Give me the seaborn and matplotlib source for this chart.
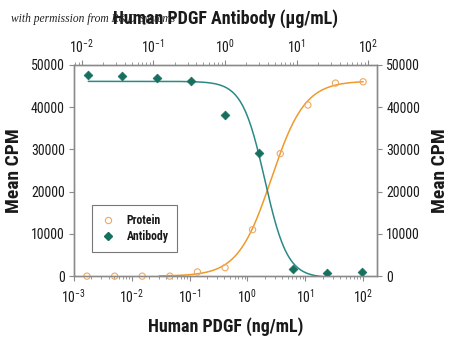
import numpy as np
import pandas as pd
import matplotlib
matplotlib.use("Agg")
import matplotlib.pyplot as plt
import matplotlib.font_manager as fm
import seaborn as sns
from matplotlib.ticker import LogLocator, NullFormatter
from matplotlib.lines import Line2D

# ---- data ----
protein_conc = [0.00169, 0.00508, 0.0152, 0.0457, 0.137, 0.412, 1.23, 3.70, 11.1, 33.3, 100.0]  # ng/mL
protein_cpm = [0, 0, 0, 0, 1000, 2000, 11000, 29000, 40500, 45700, 46000]
antibody_conc = [0.0123, 0.037, 0.111, 0.333, 1.0, 3.0, 9.0, 27.0, 81.0]  # ug/mL
antibody_cpm = [47600, 47400, 46900, 46200, 38100, 29100, 1600, 700, 1000]

# 4-parameter logistic fit parameters (bottom, top, EC50, hill; negative hill = decreasing)
protein_fit = dict(bottom=0, top=46200, ec50=2.6, hill=1.5)
antibody_fit = dict(bottom=-400, top=46100, ec50=3.6, hill=-2.75)

yticks = [0, 10000, 20000, 30000, 40000, 50000]

def four_pl(x, p):
    return p["bottom"] + (p["top"] - p["bottom"]) / (1 + (p["ec50"] / x) ** p["hill"])

orange = "#EE9A2C"
orange_mk = "#F0A860"
teal_line = "#2A8A86"
teal_mk = "#17705F"
spine_c = "#8A8A8A"
txt_c = "#1A1A1A"

# pick a condensed sans family if one is installed
fonts = fm.fontManager.ttflist
names = {f.name for f in fonts}
cond_family, cond_stretch = None, "normal"
for cand in ["Liberation Sans Narrow", "Roboto Condensed", "Open Sans Condensed",
             "Noto Sans Condensed", "Arial Narrow", "DejaVu Sans Condensed"]:
    if cand in names:
        cond_family = cand
        break
if cond_family is None:
    for f in fonts:
        if "Condensed" in f.name or "Narrow" in f.name:
            cond_family = f.name
            break
if cond_family is None:
    cond_family = "Lato"

sns.set_theme(style="white")
plt.rcParams["font.family"] = [cond_family, "Lato", "DejaVu Sans"]
plt.rcParams["font.stretch"] = cond_stretch
plt.rcParams["text.color"] = txt_c
plt.rcParams["axes.labelcolor"] = txt_c
plt.rcParams["xtick.color"] = txt_c
plt.rcParams["ytick.color"] = txt_c
plt.rcParams["mathtext.fontset"] = "custom"
plt.rcParams["mathtext.rm"] = cond_family
plt.rcParams["mathtext.it"] = cond_family

narrow = cond_family != "Lato"
xlab_fs = 13 if narrow else 11.5
ylab_fs = 14 if narrow else 12
tick_fs = 10 if narrow else 9

fig = plt.figure(figsize=(4.5, 3.38), dpi=100)
ax = fig.add_axes([0.164, 0.183, 0.674, 0.625])
ax_top = ax.twiny()
ax_r = ax.twinx()

dfp = pd.DataFrame({"conc": protein_conc, "cpm": protein_cpm})
dfa = pd.DataFrame({"conc": antibody_conc, "cpm": antibody_cpm})

xp = np.logspace(np.log10(0.03), np.log10(protein_conc[-1]), 300)
xa = np.logspace(np.log10(antibody_conc[0]), np.log10(40), 300)
dfp_fit = pd.DataFrame({"conc": xp, "cpm": four_pl(xp, protein_fit)})
dfa_fit = pd.DataFrame({"conc": xa, "cpm": four_pl(xa, antibody_fit)})

# protein on bottom axis
sns.lineplot(data=dfp_fit, x="conc", y="cpm", ax=ax, color=orange, lw=1.1, legend=False)
sns.scatterplot(data=dfp, x="conc", y="cpm", ax=ax, marker="o", s=20,
                facecolor="none", edgecolor=orange_mk, linewidth=0.8, zorder=5, clip_on=False)

# antibody on top axis
sns.lineplot(data=dfa_fit, x="conc", y="cpm", ax=ax_top, color=teal_line, lw=1.1, legend=False)
sns.scatterplot(data=dfa, x="conc", y="cpm", ax=ax_top, marker="D", s=20,
                color=teal_mk, edgecolor=teal_mk, linewidth=0.5, zorder=5)

ax.set_xscale("log")
ax_top.set_xscale("log")
ax.set_xlim(1e-3, 10 ** 2.242)
ax_top.set_xlim(10 ** -2.112, 10 ** 2.126)
for a in (ax, ax_top, ax_r):
    a.set_ylim(0, 50000)

ax.set_yticks(yticks)
ax_r.set_yticks(yticks)
ax.set_yticklabels([str(v) for v in yticks])
ax_r.set_yticklabels([str(v) for v in yticks])

for a in (ax, ax_top):
    a.xaxis.set_major_locator(LogLocator(base=10, numticks=10))
    a.xaxis.set_minor_locator(LogLocator(base=10, subs=np.arange(2, 10), numticks=20))
    a.xaxis.set_minor_formatter(NullFormatter())

ax.set_xlabel("Human PDGF (ng/mL)", fontsize=xlab_fs, fontweight="bold", labelpad=8)
ax_top.set_xlabel("Human PDGF Antibody (\u03bcg/mL)", fontsize=xlab_fs, fontweight="bold", labelpad=10)
ax.set_ylabel("Mean CPM", fontsize=ylab_fs, fontweight="bold", labelpad=6)
ax_r.set_ylabel("Mean CPM", fontsize=ylab_fs, fontweight="bold", labelpad=8)
ax_top.set_ylabel("")

for a in (ax, ax_top, ax_r):
    for s in a.spines.values():
        s.set_color(spine_c)
        s.set_linewidth(0.9)
    a.tick_params(axis="both", which="major", labelsize=tick_fs, length=3.5, width=0.8,
                  direction="out", color=spine_c, pad=3)
    a.tick_params(axis="both", which="minor", length=2, width=0.6, direction="out", color=spine_c)
    a.grid(False)

ax.tick_params(axis="x", which="major", pad=5)

# legend
handles = [
    Line2D([], [], marker="o", ls="none", markerfacecolor="none", markeredgecolor=orange_mk,
           markersize=4.5, markeredgewidth=0.8, label="Protein"),
    Line2D([], [], marker="D", ls="none", color=teal_mk, markersize=4, label="Antibody"),
]
leg = ax_r.legend(handles=handles, loc="lower left", bbox_to_anchor=(0.059, 0.114),
                  borderaxespad=0, frameon=True, fancybox=False, handletextpad=0.9,
                  borderpad=0.75, labelspacing=0.3, handlelength=1.3,
                  prop={"weight": "bold", "size": 8.5 if narrow else 8,
                        "family": [cond_family, "Lato", "DejaVu Sans"]})
leg.get_frame().set_edgecolor("#555555")
leg.get_frame().set_linewidth(0.8)

fig.text(0.024, 0.935, "with permission from R&D Systems", fontsize=8.3, style="italic",
         family=["Liberation Serif", "DejaVu Serif"], color="#222222", zorder=0)

fig.savefig("out.png", dpi=100, facecolor="white")
